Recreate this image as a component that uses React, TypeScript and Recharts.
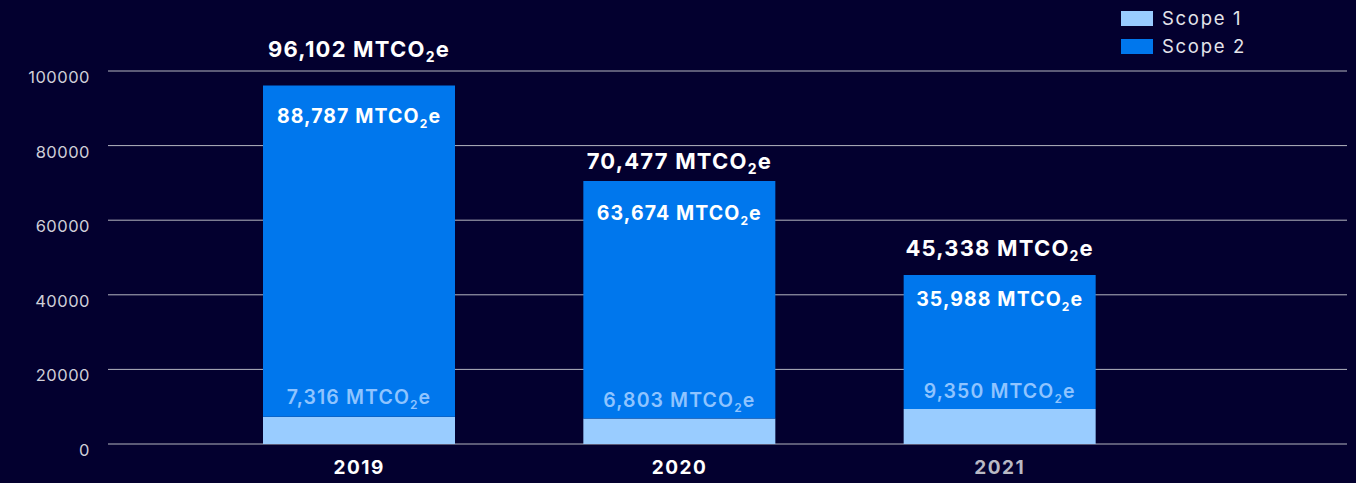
import React from 'react';
import { BarChart, Bar, XAxis, YAxis, CartesianGrid, Legend, LabelList } from 'recharts';

const years = ['2019', '2020', '2021'];
const scope1 = [7316, 6803, 9350];
const scope2 = [88787, 63674, 35988];
const totals = [96102, 70477, 45338];
const yTicks = [0, 20000, 40000, 60000, 80000, 100000];
const yearColors = ['#ffffff', '#ffffff', '#b9b9c4'];

const data = years.map((y, i) => ({ year: y, s1: scope1[i], s2: scope2[i], total: totals[i] }));

const BG = '#03002f';
const C1 = '#99ccff';
const C2 = '#0077ed';
const FONT = 'Inter, "Open Sans", sans-serif';

// per-bar vertical offsets of the labels (pixels)
const totalOffsets = [-29, -12, -19];
const innerOffsets = [37, 39, 31];
const s1Offsets = [-13, -12, -11];

const fmt = (v: number) => v.toLocaleString('en-US');

const Co2Text = ({ cx, y, value, fill, size, weight, ls }: any) => (
  <text x={cx} y={y} textAnchor="middle" fill={fill} fontSize={size} fontWeight={weight} fontFamily={FONT} letterSpacing={ls}>
    {fmt(value)} MTCO
    <tspan dy={5} fontSize={Math.round(size * 0.62)}>2</tspan>
    <tspan dy={-5}>e</tspan>
  </text>
);

const Scope2Label = (props: any) => {
  const { x, y, width, index } = props;
  const cx = x + width / 2;
  return (
    <g>
      <Co2Text cx={cx} y={y + totalOffsets[index]} value={totals[index]} fill="#ffffff" size={22} weight={700} ls={1.2} />
      <Co2Text cx={cx} y={y + innerOffsets[index]} value={scope2[index]} fill="#ffffff" size={19.5} weight={700} ls={1.1} />
    </g>
  );
};

const Scope1Label = (props: any) => {
  const { x, y, width, index } = props;
  const cx = x + width / 2;
  return <Co2Text cx={cx} y={y + s1Offsets[index]} value={scope1[index]} fill="#8fc4ff" size={19.5} weight={600} ls={1.1} />;
};

const YearTick = (props: any) => {
  const { x, y, payload, index } = props;
  return (
    <text x={x} y={y + 22} textAnchor="middle" fill={yearColors[index]} fontSize={19} fontWeight={700} fontFamily={FONT} letterSpacing={1.5}>
      {payload.value}
    </text>
  );
};

const ValueTick = (props: any) => {
  const { x, y, payload } = props;
  return (
    <text x={x - 10} y={y + 12} textAnchor="end" fill="#cfcfd8" fontSize={16.5} fontFamily={FONT} letterSpacing={0.5}>
      {payload.value}
    </text>
  );
};

const LegendContent = () => (
  <div style={{ fontFamily: FONT, fontSize: 18.5, color: '#e4e4ea', letterSpacing: 1.7 }}>
    {[
      { c: C1, t: 'Scope 1' },
      { c: C2, t: 'Scope 2' },
    ].map((it) => (
      <div key={it.t} style={{ display: 'flex', alignItems: 'center', height: 28 }}>
        <div style={{ width: 32, height: 15, background: it.c, marginRight: 9 }} />
        <span>{it.t}</span>
      </div>
    ))}
  </div>
);

export default function App() {
  return (
    <div style={{ position: 'fixed', left: 0, top: 0, width: 1356, height: 483, background: BG }}>
      <BarChart
        width={1356}
        height={483}
        data={data}
        margin={{ top: 71, right: 9, bottom: 0, left: 0 }}
        barSize={192}
      >
        <CartesianGrid horizontal vertical={false} stroke="#b5b5c0" strokeWidth={1} />
        <XAxis
          dataKey="year"
          height={39}
          axisLine={false}
          tickLine={false}
          tick={<YearTick />}
          padding={{ left: 91, right: 187 }}
        />
        <YAxis
          width={108}
          domain={[0, 100000]}
          ticks={yTicks}
          axisLine={false}
          tickLine={false}
          tick={<ValueTick />}
        />
        <Legend
          layout="horizontal"
          verticalAlign="middle"
          align="center"
          content={<LegendContent />}
          wrapperStyle={{ top: 4, left: 1121, width: 'auto', height: 'auto' }}
        />
        <Bar dataKey="s1" name="Scope 1" stackId="a" fill={C1} isAnimationActive={false}>
          <LabelList dataKey="s1" content={<Scope1Label />} />
        </Bar>
        <Bar dataKey="s2" name="Scope 2" stackId="a" fill={C2} isAnimationActive={false}>
          <LabelList dataKey="s2" content={<Scope2Label />} />
        </Bar>
      </BarChart>
    </div>
  );
}
